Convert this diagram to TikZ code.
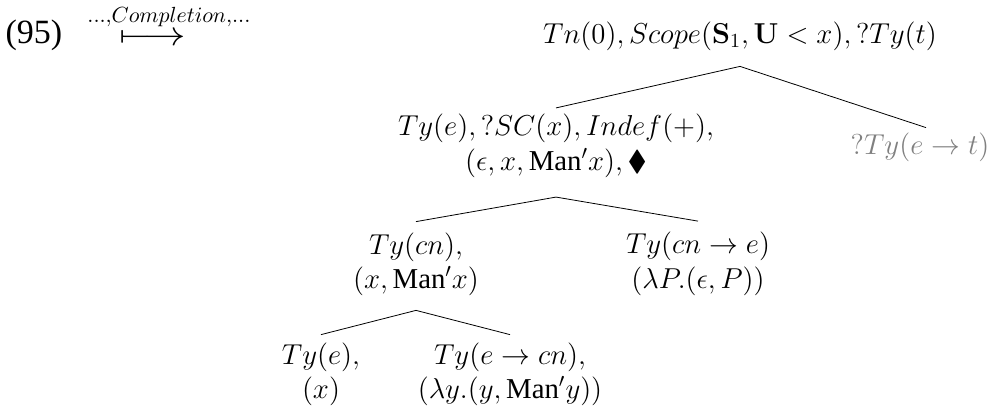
\documentclass[tikz,border=0pt]{standalone}
\usepackage{amsmath,amssymb}
\usepackage{graphicx}
\usepackage[no-math]{fontspec}
\setmainfont{Liberation Serif}
\definecolor{pendgray}{RGB}{128,128,128}

\begin{document}
\begin{tikzpicture}[x=0.5pt, y=-0.5pt,
    dsnode/.style={inner sep=0pt, align=center, font=\fontsize{14.4pt}{17.28pt}\selectfont},
    branch/.style={thin}]
                \useasboundingbox (0,0) rectangle (996,407);

                % Example number and transition
                \node[inner sep=0pt, anchor=base, font=\fontsize{17pt}{20pt}\selectfont] (num) at (34, 43) {(95)};
                \node[inner sep=0pt, anchor=base, font=\fontsize{16pt}{19pt}\selectfont] (compl) at (169, 45)
                    {$\stackrel{\ldots,Completion,\ldots\rule[-3pt]{0pt}{0pt}}{\mathrel{\scalebox{1.2}[1]{$\longmapsto$}}}$};

                % Root
                \node[dsnode] (root) at (740, 36) {$Tn(0), Scope(\mathbf{S}_1, \mathbf{U} < x), ?Ty(t)$};

                % Daughters of the root
                \node[dsnode] (lc) at (556, 146) {$Ty(e), ?SC(x), Indef(+),$\\$(\epsilon, x, \text{Man}'x), \blacklozenge$};
                \node[dsnode, text=pendgray] (rc) at (920, 147) {$?Ty(e \rightarrow t)$};

                % Term and determiner
                \node[dsnode] (cn) at (416, 264.5) {$Ty(cn),$\\$(x, \text{Man}'x)$};
                \node[dsnode] (det) at (698, 264) {$Ty(cn \rightarrow e)$\\$(\lambda P.(\epsilon, P))$};

                % Variable and restrictor
                \node[dsnode] (var) at (321, 374.5) {$Ty(e),$\\$(x)$};
                \node[dsnode] (restr) at (510, 374.5) {$Ty(e \rightarrow cn),$\\$(\lambda y.(y, \text{Man}'y))$};

                % Branches
                \draw[branch] ([yshift=3pt]lc.north) -- ([yshift=-7.8pt]root.south) -- ([xshift=3pt,yshift=2.3pt]rc.north);
                \draw[branch] ([yshift=5.4pt]cn.north) -- ([yshift=-9.5pt]lc.south) -- ([yshift=5.4pt]det.north);
                \draw[branch] ([yshift=3.9pt]var.north) -- ([yshift=-6.9pt]cn.south) -- ([yshift=3.9pt]restr.north);
            \end{tikzpicture}
\end{document}
